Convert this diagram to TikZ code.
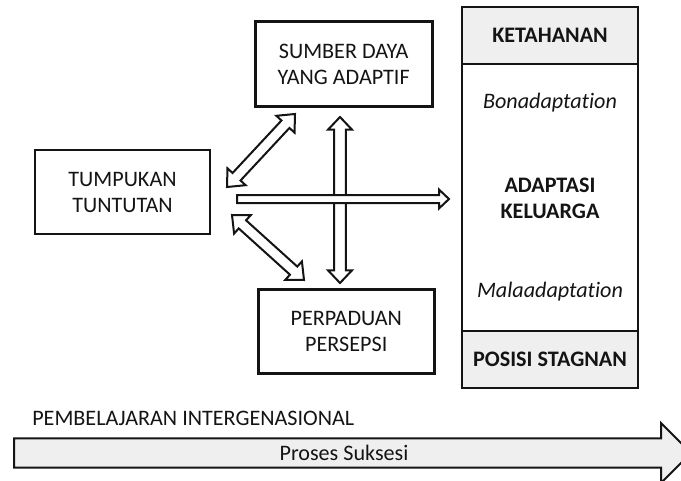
\documentclass[tikz,border=0pt]{standalone}
\usepackage{fontspec}
\setmainfont[Ligatures=NoCommon]{Carlito}
\usetikzlibrary{calc}
\definecolor{boxgray}{HTML}{EFEFEF}
\definecolor{ink}{HTML}{141414}

\tikzset{
  box/.style={draw=ink, line width=2pt, align=center, inner sep=0pt},
  outline/.style={draw=ink, fill=white, line width=1.5pt, line join=miter},
  % blk={shaft half}{head half}{head length}, all in pt
  blk/.code n args={3}{%
    \pgfmathsetmacro\bkw{#1}%
    \pgfmathsetmacro\bkwd{veclen(#1,#3)}\pgfmathsetmacro\bkwa{atan2(#1,#3)}%
    \pgfmathsetmacro\bkhd{veclen(#2,#3)}\pgfmathsetmacro\bkha{atan2(#2,#3)}},
  oneway/.style={to path={
    ($(\tikztostart)!\bkw pt!90:(\tikztotarget)$)
    -- ($(\tikztotarget)!\bkwd pt!-\bkwa:(\tikztostart)$)
    -- ($(\tikztotarget)!\bkhd pt!-\bkha:(\tikztostart)$)
    -- (\tikztotarget)
    -- ($(\tikztotarget)!\bkhd pt!\bkha:(\tikztostart)$)
    -- ($(\tikztotarget)!\bkwd pt!\bkwa:(\tikztostart)$)
    -- ($(\tikztostart)!\bkw pt!-90:(\tikztotarget)$) -- cycle}},
  twoway/.style={to path={
    (\tikztostart)
    -- ($(\tikztostart)!\bkhd pt!\bkha:(\tikztotarget)$)
    -- ($(\tikztostart)!\bkwd pt!\bkwa:(\tikztotarget)$)
    -- ($(\tikztotarget)!\bkwd pt!-\bkwa:(\tikztostart)$)
    -- ($(\tikztotarget)!\bkhd pt!-\bkha:(\tikztostart)$)
    -- (\tikztotarget)
    -- ($(\tikztotarget)!\bkhd pt!\bkha:(\tikztostart)$)
    -- ($(\tikztotarget)!\bkwd pt!\bkwa:(\tikztostart)$)
    -- ($(\tikztostart)!\bkwd pt!-\bkwa:(\tikztotarget)$)
    -- ($(\tikztostart)!\bkhd pt!-\bkha:(\tikztotarget)$) -- cycle}},
}

\begin{document}
\begin{tikzpicture}[x=0.75pt,y=-0.75pt,
    every node/.style={font=\fontsize{16.6}{19.5}\selectfont, text=ink}]
  \useasboundingbox (0,0) rectangle (681,481);
  \clip (0,0) rectangle (681,481);

  % boxes on the left
  \node[box, minimum width=131.25pt, minimum height=63pt] (tum) at (122.5,192)
    {TUMPUKAN\\TUNTUTAN};
  \node[box, minimum width=132.75pt, minimum height=63.75pt] (sum) at (343.7,64.2)
    {SUMBER DAYA\\YANG ADAPTIF};
  \node[box, minimum width=132pt, minimum height=63pt] (per) at (346.3,331.3)
    {PERPADUAN\\PERSEPSI};

  % right column
  \node[box, minimum width=132pt, minimum height=200.25pt] (mid) at (550,197.5) {};
  \node[box, fill=boxgray, minimum width=132pt, minimum height=42.75pt] (ket) at (550,35.5)
    {\bfseries KETAHANAN};
  \node[box, fill=boxgray, minimum width=132pt, minimum height=42.75pt] (pos) at (550,359.5)
    {\bfseries POSISI STAGNAN};
  \node (bona) at (550,103) {\itshape Bonadaptation};
  \node[align=center] (adap) at (550,198.5) {\bfseries ADAPTASI\\\bfseries KELUARGA};
  \node (mala) at (550,292) {\itshape Malaadaptation};

  % arrow ends
  \coordinate (d1a) at (227,187);
  \coordinate (d1b) at (295,114);
  \coordinate (d2a) at (232,215);
  \coordinate (d2b) at (304,280);
  \coordinate (v1) at (340,117);
  \coordinate (v2) at (340,283);
  \coordinate (h1) at (237,199);
  \coordinate (h2) at (449,199);

  \draw[outline, blk={4.1}{9.3}{10.5}, twoway] (d1a) to (d1b);
  \draw[outline, blk={4.1}{9.3}{10.5}, twoway] (d2a) to (d2b);
  \draw[outline, blk={4.35}{9}{9.5}, twoway] (v1) to (v2);
  \draw[outline, blk={3}{7.1}{7.5}, oneway] (h1) to (h2);

  % bottom
  \node[anchor=base west, inner sep=0pt] (pem) at (32,425) {PEMBELAJARAN INTERGENASIONAL};
  \coordinate (s1) at (14,453);
  \coordinate (s2) at (691,453);
  \draw[outline, fill=boxgray, blk={10.9}{22.5}{22.5}, oneway] (s1) to (s2);
  \node (suk) at (344,453) {Proses Suksesi};
\end{tikzpicture}
\end{document}
